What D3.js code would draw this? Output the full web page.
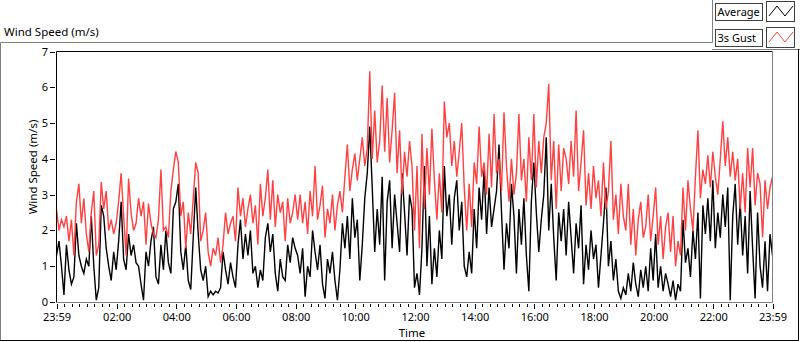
<!DOCTYPE html>
<html>
<head>
    <meta charset="utf-8">
    <title>Wind Speed</title>
    <style>
        body {
            margin: 0;
            background-color: #fff;
        }
        svg {
            display: block;
            font-family: "Noto Sans", sans-serif;
        }
        .frame-dark { stroke: #000; fill: none; }
        .frame-light { stroke: #808080; fill: none; }
        .axis text { font-size: 11px; fill: #000; font-family: "Noto Sans", sans-serif; }
        .axis line { stroke: #000; shape-rendering: crispEdges; }
        .axis path { display: none; }
        .title { font-size: 11.5px; fill: #000; }
        .series { fill: none; stroke-width: 1.4px; stroke-linejoin: miter; }
        .legend-box { fill: #fff; stroke: #404040; }
        .legend text { font-size: 11px; fill: #000; }
    </style>
</head>
<body>
<svg id="chart" width="800" height="342"></svg>
<script src="https://d3js.org/d3.v7.min.js"></script>
<script>
    // samples every 5 minutes, 23:59 -> 23:59 (289 points)
    const sampleMinutes = 5;

    const average = [
        1.3, 1.7, 1.0, 0.2, 1.6, 0.9, 0.5, 0.7, 2.2, 1.3, 1.0, 0.8, 1.2, 1.0, 2.4, 1.0,
        0.05, 0.4, 2.7, 2.4, 1.5, 1.0, 0.6, 1.4, 0.9, 1.7, 2.8, 1.2, 0.9, 1.9, 1.3, 1.6,
        1.1, 1.0, 0.5, 0.05, 1.4, 1.0, 1.7, 2.1, 0.7, 0.5, 1.6, 0.9, 2.0, 1.1, 0.8, 2.6,
        2.8, 3.3, 1.4, 0.9, 1.6, 0.6, 0.35, 1.8, 3.2, 1.9, 0.9, 0.6, 1.0, 0.15, 0.3, 0.2,
        0.3, 0.25, 0.4, 1.4, 0.9, 0.5, 1.1, 0.7, 0.4, 1.6, 2.3, 1.2, 1.9, 1.3, 2.0, 0.8,
        1.0, 0.4, 0.9, 0.6, 1.8, 2.2, 1.4, 1.9, 0.8, 0.3, 1.2, 0.7, 0.6, 1.6, 1.1, 1.8,
        1.5, 1.3, 0.8, 1.5, 0.15, 1.0, 0.7, 2.0, 1.4, 0.9, 1.6, 0.5, 0.1, 1.2, 0.8, 1.4,
        0.6, 0.05, 0.9, 2.2, 1.5, 2.4, 1.2, 2.9, 1.8, 2.3, 0.6, 1.6, 2.9, 3.6, 4.9, 3.2,
        1.4, 2.6, 1.6, 3.5, 0.6, 2.8, 3.4, 1.5, 3.0, 2.2, 1.4, 3.6, 2.5, 1.3, 3.0, 2.6,
        0.4, 0.8, 0.2, 1.5, 3.8, 1.0, 2.4, 0.5, 1.5, 0.7, 2.0, 1.2, 3.8, 2.4, 3.0, 1.6,
        2.9, 3.4, 2.0, 2.8, 1.0, 0.7, 1.4, 0.8, 2.6, 1.5, 3.2, 2.3, 3.7, 1.9, 3.2, 2.1,
        2.6, 3.1, 4.4, 2.5, 0.9, 2.2, 1.5, 3.3, 2.4, 0.8, 2.6, 1.6, 2.9, 1.3, 0.3, 2.8,
        3.9, 2.5, 1.4, 2.3, 3.0, 4.6, 2.0, 3.3, 1.8, 0.6, 2.5, 1.7, 2.6, 1.3, 2.8, 1.8,
        0.8, 2.2, 1.5, 2.7, 0.5, 1.6, 0.9, 2.0, 1.2, 1.6, 0.4, 1.3, 2.2, 3.2, 1.0, 1.7,
        0.6, 1.2, 0.3, 0.1, 0.4, 0.2, 0.8, 0.3, 1.1, 0.5, 0.15, 0.9, 0.4, 1.0, 0.3, 1.5,
        0.6, 1.9, 0.4, 1.0, 0.3, 0.8, 0.5, 0.15, 0.6, 0.05, 0.5, 0.3, 2.3, 1.1, 1.5, 0.7,
        2.0, 1.2, 2.5, 0.1, 2.7, 1.9, 2.9, 1.7, 3.4, 1.5, 2.5, 1.8, 3.0, 2.1, 3.2, 0.05,
        2.4, 3.3, 1.6, 2.8, 1.3, 2.4, 0.8, 3.1, 1.5, 0.1, 2.5, 1.0, 0.4, 1.7, 0.3, 1.9,
        1.3
    ];

    const gust = [
        2.6, 2.0, 2.3, 2.1, 2.4, 1.7, 2.3, 1.3, 2.8, 3.3, 2.2, 2.9, 1.9, 1.4, 2.5, 3.1,
        1.3, 1.6, 3.35, 2.6, 3.1, 2.0, 2.3, 1.9, 2.2, 2.8, 3.6, 2.4, 1.3, 3.45, 2.5, 2.0,
        2.2, 2.9, 2.4, 2.8, 1.6, 2.75, 2.2, 1.9, 1.8, 2.3, 3.7, 2.0, 2.1, 1.8, 3.1, 3.7,
        4.2, 3.9, 2.4, 2.8, 1.5, 2.5, 1.9, 2.9, 3.9, 3.6, 1.7, 2.0, 2.5, 1.4, 1.0, 1.5,
        1.3, 1.8, 1.1, 1.6, 2.5, 1.9, 2.2, 2.4, 1.7, 3.2, 2.4, 2.9, 2.1, 2.6, 3.0, 2.2,
        2.7, 1.6, 3.3, 2.4, 2.9, 3.7, 2.3, 3.4, 2.1, 3.0, 2.5, 2.8, 1.7, 2.9, 2.2, 2.5,
        3.0, 2.3, 3.0, 2.2, 2.8, 1.9, 3.1, 2.4, 3.8, 2.3, 2.7, 3.25, 1.8, 2.6, 2.2, 3.0,
        2.0, 2.7, 3.1, 2.5, 3.5, 4.4, 3.1, 3.7, 4.15, 3.4, 4.0, 4.6, 3.8, 4.3, 6.45, 4.0,
        5.35, 3.9, 4.5, 6.05, 4.2, 5.7, 3.9, 4.8, 5.85, 3.6, 4.8, 3.0, 4.2, 3.5, 4.5, 3.8,
        2.0, 3.8, 1.5, 4.7, 2.6, 4.3, 3.0, 4.85, 3.4, 2.3, 3.6, 2.5, 5.6, 4.6, 5.0, 3.8,
        4.5, 3.5, 4.2, 5.0, 3.2, 2.0, 3.3, 2.1, 3.9, 3.3, 4.9, 3.5, 3.9, 3.0, 4.7, 3.2,
        5.25, 3.6, 4.0, 3.1, 5.3, 3.8, 2.8, 4.0, 3.0, 3.6, 5.25, 3.4, 4.0, 2.8, 4.6, 3.4,
        5.25, 3.2, 4.5, 3.6, 4.6, 5.0, 6.1, 3.4, 4.5, 2.6, 4.4, 3.1, 4.3, 4.0, 3.3, 4.5,
        3.5, 5.35, 3.1, 3.9, 4.8, 2.7, 3.6, 2.6, 3.8, 2.9, 3.4, 2.4, 3.9, 2.6, 3.1, 4.5,
        2.3, 3.0, 1.9, 3.3, 2.4, 2.0, 3.3, 1.6, 2.6, 1.3, 2.3, 2.8, 1.8, 2.1, 3.0, 1.7,
        2.4, 3.2, 1.6, 2.4, 1.2, 2.1, 2.5, 1.4, 2.4, 1.0, 1.7, 1.3, 3.2, 2.0, 3.4, 2.6,
        2.0, 3.5, 4.8, 2.9, 3.7, 3.3, 4.1, 3.2, 4.2, 3.5, 3.0, 4.0, 5.05, 3.8, 4.6, 3.5,
        4.2, 3.4, 4.0, 2.6, 3.6, 2.5, 4.3, 3.2, 4.3, 2.7, 3.6, 3.3, 1.8, 3.4, 2.6, 3.2,
        3.5
    ];

    const legendNames = ['Average', '3s Gust'];
    const seriesColors = ['#000000', '#ff4040'];
    const yTicks = [0, 1, 2, 3, 4, 5, 6, 7];
    const xMajorHours = [2, 4, 6, 8, 10, 12, 14, 16, 18, 20, 22];

    const start = new Date(2020, 0, 1, 23, 59);
    const end = new Date(2020, 0, 2, 23, 59);

    const svg = d3.select('svg#chart');

    // outer frame of the graph control
    svg.append('path').attr('class', 'frame-light')
        .attr('d', 'M0.5,340 V42.5 H712.5 V0 M712,49.5 H800');
    svg.append('path').attr('class', 'frame-dark')
        .attr('d', 'M0,340.5 H798.5 V49');

    svg.append('text').attr('class', 'title')
        .attr('x', 4).attr('y', 36)
        .text('Wind Speed (m/s)');

    const x = d3.scaleTime().domain([start, end]).range([56.5, 772.5]);
    const y = d3.scaleLinear().domain([0, 7]).range([302, 51.5]);

    // the data (drawn first so the plot border stays on top)
    const t = i => d3.timeMinute.offset(start, i * sampleMinutes);
    const line = d3.line()
        .x((d, i) => x(t(i)))
        .y(d => y(d));

    [average, gust].forEach((s, k) => {
        svg.append('path').attr('class', 'series')
            .attr('stroke', seriesColors[k])
            .attr('d', line(s));
    });

    // plot area border: dark top/left, grey bottom/right
    svg.append('path').attr('class', 'frame-dark')
        .attr('d', 'M56.5,303 V51.5 H773');
    svg.append('path').attr('class', 'frame-light')
        .attr('d', 'M56,302.5 H772.5 V51');

    // y axis
    svg.append('g').attr('class', 'axis')
        .attr('transform', 'translate(55,0)')
        .call(d3.axisLeft(y).tickValues(yTicks).tickSize(5).tickPadding(2)
            .tickFormat(d3.format('d')));

    // x axis: minor ticks every 15 min, major every 2 hours plus the ends
    const majors = [start].concat(xMajorHours.map(h => new Date(2020, 0, 2, h, 0)), [end]);
    const minors = d3.timeMinute.every(15).range(start, end)
        .filter(d => !(d.getMinutes() === 0 && d.getHours() % 2 === 0));

    svg.append('g').attr('class', 'axis')
        .attr('transform', 'translate(0,304)')
        .call(d3.axisBottom(x).tickValues(minors).tickSize(3).tickFormat(''));
    svg.append('g').attr('class', 'axis')
        .attr('transform', 'translate(0,304)')
        .call(d3.axisBottom(x).tickValues(majors).tickSize(5).tickPadding(4)
            .tickFormat(d3.timeFormat('%H:%M')));

    svg.append('text').attr('class', 'title')
        .attr('x', 412).attr('y', 337)
        .attr('text-anchor', 'middle')
        .text('Time');

    svg.append('text').attr('class', 'title')
        .attr('transform', 'translate(37,167) rotate(-90)')
        .attr('text-anchor', 'middle')
        .text('Wind Speed (m/s)');

    // legend
    const legend = svg.append('g').attr('class', 'legend');
    legendNames.forEach((name, k) => {
        const top = k * 26;
        legend.append('rect').attr('class', 'legend-box')
            .attr('x', 715.5).attr('y', top + 3.5).attr('width', 47).attr('height', 17);
        legend.append('text')
            .attr('x', 717.5).attr('y', top + 16)
            .text(name);
        legend.append('rect').attr('class', 'legend-box')
            .attr('x', 766.5).attr('y', top + 1.5).attr('width', 28).attr('height', 20);
        legend.append('path')
            .attr('fill', 'none')
            .attr('stroke', seriesColors[k])
            .attr('d', `M769,${top + 16} L777,${top + 6} L785,${top + 16} L793,${top + 6}`);
    });
</script>
</body>
</html>
